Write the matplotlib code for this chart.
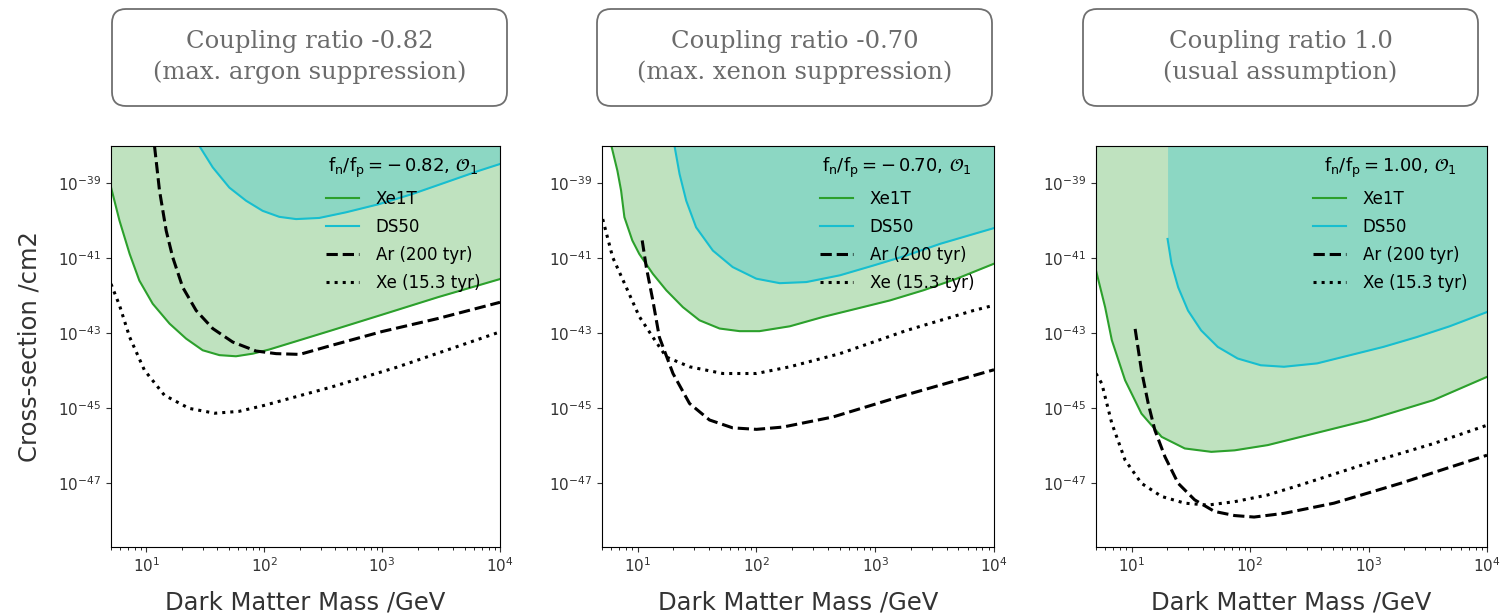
import numpy as np
import matplotlib
matplotlib.use("Agg")
import matplotlib.pyplot as plt
from matplotlib.patches import FancyBboxPatch
from matplotlib.transforms import IdentityTransform
from matplotlib.ticker import NullLocator, LogLocator

# exclusion limits, mass in GeV, cross-section as log10(sigma / cm^2)
# coupling ratio -0.82
xe1t_m_a = [5.0, 5.9, 7.2, 8.7, 11.3, 15.7, 21.7, 30, 41.6, 57.5, 80, 110, 200, 372, 1000, 3000, 1e4]
xe1t_s_a = [-39.1, -39.99, -40.88, -41.59, -42.21, -42.74, -43.14, -43.45, -43.58, -43.61, -43.54, -43.43,
            -43.18, -42.92, -42.5, -42.03, -41.55]
ds50_m_a = [28.1, 36.5, 50.5, 70, 96.8, 134, 186, 292, 492, 944, 1808, 3470, 6640, 1e4]
ds50_s_a = [-38.0, -38.57, -39.11, -39.46, -39.73, -39.89, -39.95, -39.92, -39.77, -39.55, -39.28, -38.97,
            -38.66, -38.48]
ar_m_a = [11.7, 12.9, 14.7, 16.7, 20.3, 26.4, 36.5, 53.9, 85, 126, 200, 372, 1000, 3000, 1e4]
ar_s_a = [-38.0, -39.19, -40.26, -40.97, -41.77, -42.39, -42.87, -43.23, -43.47, -43.54, -43.56, -43.32,
          -42.95, -42.6, -42.17]
xe_m_a = [5.0, 5.9, 7.2, 9.6, 14.2, 23, 38, 61, 100, 372, 1340, 1e4]
xe_s_a = [-41.68, -42.25, -43.1, -43.98, -44.65, -45.0, -45.13, -45.08, -44.92, -44.43, -43.9, -42.96]

# coupling ratio -0.70
xe1t_m_b = [6.0, 6.74, 7.24, 7.72, 9.0, 10.3, 13.4, 17.4, 24, 33.1, 48.9, 72, 106, 191, 364, 697, 1330,
            2540, 4860, 1e4]
xe1t_s_b = [-38.0, -38.66, -39.19, -39.9, -40.52, -40.88, -41.41, -41.85, -42.3, -42.65, -42.87, -42.94,
            -42.94, -42.81, -42.56, -42.34, -42.12, -41.85, -41.54, -41.14]
ds50_m_b = [20.4, 22.5, 25.6, 31.0, 42.9, 63, 99.6, 157, 263, 504, 961, 1840, 3520, 6710, 1e4]
ds50_s_b = [-38.0, -38.75, -39.46, -40.17, -40.79, -41.23, -41.54, -41.66, -41.63, -41.45, -41.19, -40.92,
            -40.61, -40.35, -40.19]
ar_m_b = [10.9, 11.8, 13.4, 15.2, 19.8, 27.3, 40.2, 63, 100, 166, 440, 1600, 1e4]
ar_s_b = [-40.52, -41.23, -42.12, -43.1, -44.07, -44.87, -45.31, -45.52, -45.56, -45.5, -45.23, -44.69, -43.97]
xe_m_b = [5.07, 6.15, 8.0, 10.3, 13.4, 17.4, 27.3, 52, 100, 191, 504, 1840, 6710, 1e4]
xe_s_b = [-39.95, -40.97, -41.77, -42.55, -43.1, -43.63, -43.89, -44.07, -44.07, -43.89, -43.54, -42.92,
          -42.39, -42.25]

# coupling ratio 1.0
xe1t_m_c = [5.0, 5.97, 6.8, 8.8, 12.1, 17.9, 28.1, 47, 74, 141, 268, 970, 3530, 1e4]
xe1t_s_c = [-41.32, -42.3, -43.18, -44.25, -45.14, -45.76, -46.07, -46.16, -46.12, -45.98, -45.76, -45.32,
            -44.78, -44.16]
ds50_m_c = [20.1, 21.7, 24.7, 29.9, 38.6, 53.3, 78.5, 123, 193, 368, 701, 1334, 2540, 4840, 1e4]
ds50_s_c = [-40.48, -41.14, -41.77, -42.39, -42.92, -43.36, -43.67, -43.85, -43.89, -43.8, -43.58, -43.36,
            -43.1, -42.81, -42.43]
ar_m_c = [10.7, 12.1, 13.8, 15.7, 19.1, 24.7, 34, 50, 74, 108, 194, 510, 1860, 1e4]
ar_s_c = [-42.88, -43.99, -44.87, -45.58, -46.29, -47.0, -47.44, -47.75, -47.86, -47.9, -47.8, -47.53,
          -47.0, -46.25]
xe_m_c = [5.0, 5.6, 6.8, 8.8, 12.1, 17.9, 28.1, 44, 74, 141, 268, 970, 3530, 1e4]
xe_s_c = [-44.07, -44.34, -45.4, -46.38, -47.0, -47.35, -47.53, -47.58, -47.49, -47.31, -47.04, -46.47,
          -45.94, -45.45]

ratios = [r"-\,0.82", r"-\,0.70", "1.00"]
box_titles = ["Coupling ratio -0.82\n(max. argon suppression)",
              "Coupling ratio -0.70\n(max. xenon suppression)",
              "Coupling ratio 1.0\n(usual assumption)"]

panels = [
    (xe1t_m_a, xe1t_s_a, ds50_m_a, ds50_s_a, ar_m_a, ar_s_a, xe_m_a, xe_s_a),
    (xe1t_m_b, xe1t_s_b, ds50_m_b, ds50_s_b, ar_m_b, ar_s_b, xe_m_b, xe_s_b),
    (xe1t_m_c, xe1t_s_c, ds50_m_c, ds50_s_c, ar_m_c, ar_s_c, xe_m_c, xe_s_c),
]

Y_TOP = 1e-38
Y_BOTTOM = 2e-49

fig = plt.figure(figsize=(15.01, 6.15), dpi=100)
W, H = 1501, 615

axes_left = [111, 602, 1096]
axes_width = [389, 392, 391]
box_left = [112, 597, 1083]

for i, (panel, ratio, title) in enumerate(zip(panels, ratios, box_titles)):
    xm, xs, dm, ds, am, as_, em, es = [np.asarray(v, dtype=float) for v in panel]
    ax = fig.add_axes([axes_left[i] / W, 1 - 547 / H, axes_width[i] / W, 401 / H])

    ax.fill_between(xm, 10 ** xs, Y_TOP, color="tab:green", alpha=0.3, lw=0)
    ax.fill_between(dm, 10 ** ds, Y_TOP, color="tab:cyan", alpha=0.3, lw=0)
    ax.plot(xm, 10 ** xs, color="tab:green", lw=1.5, label="Xe1T")
    ax.plot(dm, 10 ** ds, color="tab:cyan", lw=1.5, label="DS50")
    ax.plot(am, 10 ** as_, color="black", ls="--", lw=2.2, label="Ar (200 tyr)")
    ax.plot(em, 10 ** es, color="black", ls=":", lw=2.2, label="Xe (15.3 tyr)")

    ax.set_xscale("log")
    ax.set_yscale("log")
    ax.set_xlim(5, 1e4)
    ax.set_ylim(Y_BOTTOM, Y_TOP)
    ax.set_yticks([1e-39, 1e-41, 1e-43, 1e-45, 1e-47])
    ax.yaxis.set_minor_locator(NullLocator())
    ax.xaxis.set_minor_locator(LogLocator(subs=np.arange(2, 10)))
    ax.tick_params(labelsize=11, colors="#333333")
    ax.set_xlabel("Dark Matter Mass /GeV", fontsize=17.5, color="#333333", labelpad=11)
    if i == 0:
        ax.set_ylabel("Cross-section /cm2", fontsize=17.5, color="#333333", labelpad=12)

    ax.legend(loc="upper right", bbox_to_anchor=(0.975, 1.0), frameon=False,
              fontsize=12, labelspacing=0.6, handletextpad=1.0,
              title=r"$\mathrm{f_n/f_p} = %s,\, \mathcal{O}_1$" % ratio,
              title_fontsize=13, borderaxespad=0.2)

    # rounded header box above each panel, in pixel units
    box = FancyBboxPatch((box_left[i], H - 106), 395, 97,
                         boxstyle="round,pad=0,rounding_size=14",
                         transform=IdentityTransform(), facecolor="white",
                         edgecolor="#6f6f6f", lw=1.3)
    fig.add_artist(box)
    fig.text((box_left[i] + 197.5) / W, 1 - 57 / H, title, ha="center", va="center",
             fontsize=17.5, family="DejaVu Serif", color="#6b6b6b", linespacing=1.4)

fig.savefig("out.png", dpi=100)
